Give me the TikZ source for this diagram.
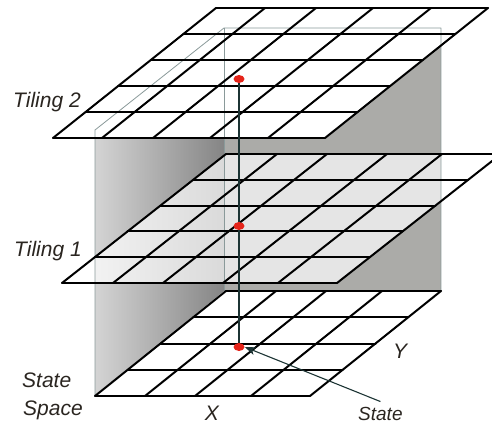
\documentclass[tikz,border=0pt]{standalone}
\usepackage{fontspec}
\setmainfont{Liberation Sans}
\usetikzlibrary{arrows.meta,shapes.geometric}
\definecolor{wallgray}{HTML}{ABABA8}
\definecolor{wallL}{HTML}{D4D4D4}
\definecolor{wallR}{HTML}{858585}
\definecolor{edgegray}{HTML}{8A9A9A}
\definecolor{stemcol}{HTML}{1C3434}
\definecolor{dotred}{HTML}{E5241A}
\definecolor{txt}{HTML}{2A2520}
\tikzset{
  gridline/.style={line width=2pt, black, line cap=round, line join=round},
  outline/.style={edgegray, line width=0.8pt, line join=round},
  lbl/.style={font=\fontsize{21}{25}\selectfont\itshape, text=txt, inner sep=0pt},
  smalllbl/.style={font=\fontsize{19}{23}\selectfont\itshape, text=txt, inner sep=0pt},
  reddot/.style={ellipse, fill=dotred, minimum width=11pt, minimum height=8pt, inner sep=0pt},
  stemline/.style={stemcol, line width=2.5pt},
  arrowline/.style={stemcol, line width=1.1pt, -{Stealth[length=11pt,width=8pt,inset=3pt]}},
  floorframe/.style={shift={(95,396)}, x={(1pt,0pt)}, y={(32.75pt,26.25pt)}},
  tileAframe/.style={shift={(62,283)}, x={(1pt,0pt)}, y={(32.8pt,25.8pt)}},
  tileBframe/.style={shift={(53,138)}, x={(1pt,0pt)}, y={(32.6pt,26pt)}}
}
\begin{document}
\begin{tikzpicture}[x=1pt,y=-1pt]
\useasboundingbox (0,0) rectangle (492,425);
% walls
\fill[wallgray] (224,28) rectangle (441,291);
\shade[left color=wallL, right color=wallR] (95,396) -- (224,291) -- (224,28) -- (95,130) -- cycle;
% fills
\begin{scope}[floorframe]
  \fill[white] (0,0) -- (215,0) -- (215,4) -- (0,4) -- cycle;
\end{scope}
\begin{scope}[tileAframe]
  \fill[white, fill opacity=0.7] (0,0) -- (275,0) -- (275,5) -- (0,5) -- cycle;
\end{scope}
\begin{scope}[tileBframe]
  \fill[white] (0,0) -- (272,0) -- (272,5) -- (0,5) -- cycle;
\end{scope}
% wall outlines
\draw[outline] (95,396) -- (95,130) -- (224,28) -- (441,28) -- (441,291);
\draw[outline] (224,28) -- (224,291);
% grids
\begin{scope}[floorframe]
  \foreach \c in {0,50,100,156,215} \draw[gridline] (\c,0) -- (\c,4);
  \foreach \r in {0,...,4} \draw[gridline] (0,\r) -- (215,\r);
\end{scope}
\begin{scope}[tileAframe]
  \foreach \c in {0,51,101,161,216,275} \draw[gridline] (\c,0) -- (\c,5);
  \foreach \r in {0,...,5} \draw[gridline] (0,\r) -- (275,\r);
\end{scope}
\begin{scope}[tileBframe]
  \foreach \c in {0,49,100,157,215,272} \draw[gridline] (\c,0) -- (\c,5);
  \foreach \r in {0,...,5} \draw[gridline] (0,\r) -- (272,\r);
\end{scope}
% state points
\coordinate (p2) at (239,79);
\coordinate (p1) at (239,226);
\coordinate (p0) at (239,347);
\draw[stemline] (p2) -- (p0);
\node[reddot] (d2) at (p2) {};
\node[reddot] (d1) at (p1) {};
\node[reddot] (d0) at (p0) {};
% labels
\node[lbl, anchor=base west] (t2) at (13,107) {Tiling 2};
\node[lbl, anchor=base west] (t1) at (14,256) {Tiling 1};
\node[lbl, anchor=base west] (ss1) at (22,387) {State};
\node[lbl, anchor=base west] (ss2) at (23,415) {Space};
\node[lbl, anchor=base] (xl) at (212,420) {X};
\node[lbl, anchor=base] (yl) at (400,358) {Y};
\node[smalllbl, anchor=base west] (st) at (358,420) {State};
\draw[arrowline] ([yshift=5pt]st.north) -- (d0.east);
\end{tikzpicture}
\end{document}
